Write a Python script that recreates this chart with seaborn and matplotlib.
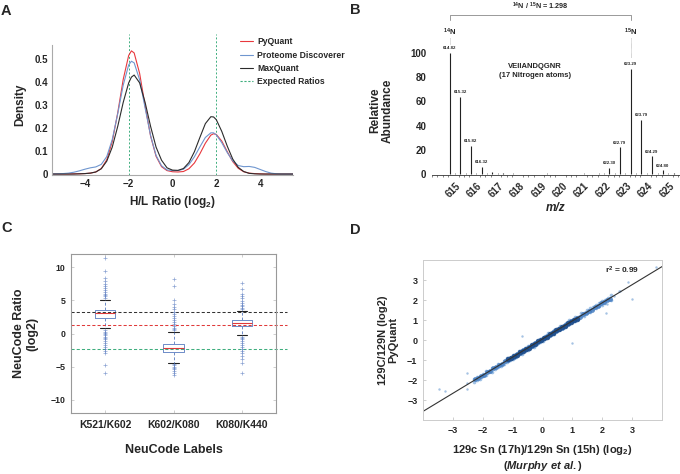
import matplotlib
matplotlib.use("Agg")
import matplotlib.pyplot as plt
import seaborn as sns
import pandas as pd
from matplotlib.lines import Line2D
from matplotlib.ticker import MultipleLocator

# ---- A: H/L ratio densities ----
ratio_x = [-5.5, -5.25, -5.0, -4.75, -4.5, -4.25, -4.0, -3.75, -3.5, -3.25,
           -3.0, -2.75, -2.5, -2.25, -2.0, -1.875, -1.75, -1.5, -1.25, -1.0,
           -0.75, -0.5, -0.25, 0.0, 0.25, 0.5, 0.75, 1.0, 1.25, 1.5,
           1.75, 1.875, 2.0, 2.25, 2.5, 2.75, 3.0, 3.25, 3.5, 3.75,
           4.0, 4.25, 4.5, 4.75, 5.0, 5.25, 5.5]
pyquant_density = [0, 0, 0, 0, 0.001, 0.001, 0.002, 0.004, 0.009, 0.024,
                   0.062, 0.141, 0.266, 0.411, 0.515, 0.535, 0.526, 0.437, 0.296, 0.165,
                   0.077, 0.032, 0.015, 0.010, 0.009, 0.011, 0.023, 0.048, 0.088, 0.134,
                   0.169, 0.175, 0.172, 0.143, 0.097, 0.054, 0.025, 0.010, 0.004, 0.002,
                   0.001, 0, 0, 0, 0, 0, 0]
discoverer_density = [0, 0.001, 0.002, 0.004, 0.008, 0.014, 0.021, 0.027, 0.031, 0.042,
                      0.076, 0.150, 0.262, 0.386, 0.474, 0.490, 0.483, 0.409, 0.287, 0.167,
                      0.081, 0.036, 0.018, 0.015, 0.015, 0.021, 0.041, 0.075, 0.118, 0.159,
                      0.179, 0.179, 0.170, 0.136, 0.093, 0.057, 0.037, 0.032, 0.033, 0.029,
                      0.020, 0.011, 0.004, 0.001, 0, 0, 0]
maxquant_density = [0, 0, 0, 0, 0, 0.001, 0.002, 0.004, 0.009, 0.023,
                    0.056, 0.117, 0.207, 0.311, 0.396, 0.421, 0.430, 0.396, 0.311, 0.207,
                    0.117, 0.060, 0.027, 0.017, 0.016, 0.024, 0.050, 0.097, 0.159, 0.219,
                    0.249, 0.248, 0.236, 0.185, 0.121, 0.065, 0.029, 0.011, 0.003, 0.001,
                    0, 0, 0, 0, 0, 0, 0]
methods = ["PyQuant", "Proteome Discoverer", "MaxQuant"]
expected_ratios = [-2, 2]

# ---- B: isotope envelope ----
peak_mz = [614.82, 615.32, 615.82, 616.32, 616.82, 617.32,
           622.30, 622.79, 623.29, 623.79, 624.29, 624.80, 625.30]
peak_abundance = [100, 63.5, 23, 5.5, 2, 1, 4.7, 22, 87, 45, 14.5, 3, 1]
noise_mz = [615.07, 615.57, 616.07, 616.57, 617.07, 617.8, 618.6, 619.4,
            620.3, 621.1, 621.8, 622.05, 622.55, 623.05, 623.55, 624.05, 624.55, 625.05]
noise_abundance = [0.8, 0.6, 1.0, 0.7, 0.9, 0.5, 0.4, 0.5,
                   0.4, 0.5, 0.6, 0.8, 0.9, 0.7, 1.0, 0.8, 0.7, 0.6]
light_mz, heavy_mz = 614.82, 623.29

# ---- C: NeuCode box plots ----
neucode_labels = ["K521/K602", "K602/K080", "K080/K440"]
box_q1 = [2.41, -2.72, 1.20]
box_median = [3.02, -2.26, 1.66]
box_q3 = [3.52, -1.56, 2.06]
whisker_low = [0.80, -4.42, -0.30]
whisker_high = [5.13, 0.30, 3.47]
outliers_k521 = [5.4, 5.6, 5.8, 6.0, 6.2, 6.5, 6.8, 7.1, 7.5, 8.0, 8.4, 9.4, 11.4,
                 0.5, 0.3, 0.1, -0.1, -0.3, -0.5, -0.7, -0.9, -1.2, -1.5, -1.8,
                 -2.1, -2.4, -2.7, -2.9, -4.7, -5.9]
outliers_k602 = [0.5, 0.7, 0.9, 1.2, 1.5, 1.8, 2.1, 2.4, 2.7, 3.0, 3.3, 3.7, 4.0,
                 4.4, 5.1, 7.2, 8.2, -4.6, -4.8, -5.0, -5.2, -5.4, -5.7, -6.0, -6.3]
outliers_k080 = [3.7, 3.9, 4.1, 4.3, 4.6, 4.9, 5.3, 5.7, 6.0, 6.7, 7.6,
                 -0.5, -0.7, -0.9, -1.1, -1.4, -1.7, -2.0, -2.3, -2.6, -3.0,
                 -3.4, -3.8, -4.4, -6.0]
expected_neucode = [3.32, 1.32, -2.32]

# ---- D: PyQuant vs Murphy et al. ----
band_x = [-2.3, -2.2, -2.1, -2.0, -1.9, -1.8, -1.7, -1.6, -1.5, -1.4, -1.3, -1.2,
          -1.1, -1.0, -0.9, -0.8, -0.7, -0.6, -0.5, -0.4, -0.3, -0.2, -0.1, 0.0,
          0.1, 0.2, 0.3, 0.4, 0.5, 0.6, 0.7, 0.8, 0.9, 1.0, 1.1, 1.2,
          1.3, 1.4, 1.5, 1.6, 1.7, 1.8, 1.9, 2.0, 2.1, 2.2, 2.3]
band_y_upper = [-1.97, -1.84, -1.81, -1.68, -1.55, -1.53, -1.40, -1.34, -1.21, -1.18, -1.05, -0.92,
                -0.90, -0.77, -0.70, -0.57, -0.54, -0.41, -0.28, -0.26, -0.13, -0.07, 0.06, 0.09,
                0.22, 0.35, 0.37, 0.50, 0.53, 0.69, 0.72, 0.85, 0.98, 1.01, 1.14, 1.17,
                1.33, 1.36, 1.49, 1.62, 1.64, 1.77, 1.83, 1.96, 1.99, 2.12, 2.25]
band_y_lower = [-2.10, -1.98, -1.95, -1.81, -1.75, -1.61, -1.60, -1.47, -1.35, -1.32, -1.18, -1.12,
                -0.98, -0.97, -0.83, -0.71, -0.68, -0.54, -0.48, -0.34, -0.33, -0.20, -0.08, -0.05,
                0.09, 0.15, 0.29, 0.30, 0.43, 0.55, 0.58, 0.72, 0.78, 0.93, 0.94, 1.07,
                1.19, 1.22, 1.36, 1.42, 1.56, 1.61, 1.70, 1.76, 1.85, 1.99, 2.02]
mid_x = [-2.25, -2.15, -2.05, -1.95, -1.85, -1.75, -1.65, -1.55, -1.45, -1.35, -1.25, -1.15,
         -1.05, -0.95, -0.85, -0.75, -0.65, -0.55, -0.45, -0.35, -0.25, -0.15, -0.05,
         0.05, 0.15, 0.25, 0.35, 0.45, 0.55, 0.65, 0.75, 0.85, 0.95, 1.05, 1.15,
         1.25, 1.35, 1.45, 1.55, 1.65, 1.75, 1.85, 1.95, 2.05, 2.15, 2.25]
mid_y = [-1.97, -1.92, -1.79, -1.73, -1.60, -1.55, -1.42, -1.37, -1.24, -1.19, -1.06, -1.01,
         -0.88, -0.83, -0.70, -0.65, -0.52, -0.47, -0.34, -0.29, -0.16, -0.11, 0.02,
         0.08, 0.21, 0.26, 0.39, 0.44, 0.57, 0.62, 0.75, 0.80, 0.93, 0.98, 1.11,
         1.16, 1.29, 1.34, 1.47, 1.52, 1.65, 1.70, 1.83, 1.89, 2.02, 2.07]
core_x = [-1.15, -1.05, -0.95, -0.85, -0.75, -0.65, -0.55, -0.45, -0.35, -0.25, -0.15, -0.05,
          0.05, 0.15, 0.25, 0.35, 0.45, 0.55, 0.65, 0.75, 0.85, 0.95, 1.05, 1.15]
core_y = [-0.97, -0.92, -0.79, -0.74, -0.61, -0.56, -0.43, -0.38, -0.25, -0.20, -0.07, -0.02,
          0.12, 0.17, 0.30, 0.35, 0.48, 0.53, 0.66, 0.71, 0.84, 0.89, 1.02, 1.07]
stray_x = [-3.47, -3.25, -2.52, -2.52, -2.52, -0.68, 1.00, 2.12, 2.15, 2.40, 2.57, 2.60, 2.85, 3.01, 3.80]
stray_y = [-2.45, -2.56, -2.17, -2.45, -1.64, 0.21, -0.17, 1.37, 1.80, 2.20, 2.47, 2.45, 2.92, 2.03, 3.63]
fit_x = [-4.0, 4.0]
fit_y = [-3.57, 3.67]

sns.set_theme(style="white")
plt.rcParams["font.family"] = ["Liberation Sans", "DejaVu Sans"]
plt.rcParams["font.weight"] = "bold"
plt.rcParams["axes.labelweight"] = "bold"
plt.rcParams["mathtext.fontset"] = "custom"
plt.rcParams["mathtext.rm"] = "Liberation Sans:bold"
plt.rcParams["mathtext.it"] = "Liberation Sans:italic:bold"
plt.rcParams["mathtext.bf"] = "Liberation Sans:bold"
plt.rcParams["mathtext.default"] = "rm"

W, H = 680, 474
fig = plt.figure(figsize=(6.8, 4.74), dpi=100)


def axes_px(left, top, right, bottom):
    return fig.add_axes([left / W, 1 - bottom / H, (right - left) / W, (bottom - top) / H])


# ================= A =================
ax_a = axes_px(52, 33.6, 293, 175.2)
method_colors = {"PyQuant": "#e8383d", "Proteome Discoverer": "#6f96cf", "MaxQuant": "#2b2b2b"}
green = "#3fae7e"
density_df = pd.DataFrame({
    "ratio": ratio_x * 3,
    "density": pyquant_density + discoverer_density + maxquant_density,
    "method": [m for m in methods for _ in ratio_x],
})
for r in expected_ratios:
    ax_a.plot([r, r], [-0.005, 0.61], color=green, linestyle=(0, (2, 2)),
              linewidth=0.7, zorder=1)
sns.lineplot(data=density_df, x="ratio", y="density", hue="method",
             palette=method_colors, linewidth=0.8, legend=False, ax=ax_a, zorder=2)
ax_a.set_xlim(-5.5, 5.5)
ax_a.set_ylim(-0.005, 0.61)
ax_a.set_xticks([-4, -2, 0, 2, 4])
ax_a.set_yticks([0, 0.1, 0.2, 0.3, 0.4, 0.5])
ax_a.set_yticklabels(["0", "0.1", "0.2", "0.3", "0.4", "0.5"])
ax_a.tick_params(length=0, labelsize=7, pad=3)
for s in ["top", "right"]:
    ax_a.spines[s].set_visible(False)
for s in ["left", "bottom"]:
    ax_a.spines[s].set_color("#aaaaaa")
    ax_a.spines[s].set_linewidth(0.8)
ax_a.spines["left"].set_bounds(-0.005, 0.56)
ax_a.set_xlabel("H/L Ratio (log$_2$)", fontsize=8.5, labelpad=3)
ax_a.set_ylabel("Density", fontsize=8.5, labelpad=6)
handles = [Line2D([], [], color=method_colors[m], lw=0.8) for m in methods]
handles.append(Line2D([], [], color=green, lw=0.8, linestyle=(0, (2, 1.5))))
fig.legend(handles, methods + ["Expected Ratios"], loc="upper left",
           bbox_to_anchor=(240 / W, 1 - 37.5 / H), frameon=False, fontsize=6.2,
           labelspacing=0.5, handlelength=1.5, handletextpad=0.5,
           borderpad=0, borderaxespad=0)

# ================= B =================
ax_b = axes_px(432, 45.7, 680, 175.2)
ax_b.vlines(noise_mz, 0, noise_abundance, color="#444444", linewidth=0.5)
ax_b.vlines(peak_mz, 0, peak_abundance, color="#222222", linewidth=0.8)
for mz, ab in zip(peak_mz, peak_abundance):
    if ab > 2.5:
        ax_b.text(mz, ab + 4, f"{mz:.2f}", fontsize=3.2, ha="center", va="center")
ax_b.set_xlim(614.0, 625.6)
ax_b.set_ylim(-1, 106)
ax_b.set_xticks(range(615, 626))
ax_b.xaxis.set_minor_locator(MultipleLocator(0.25))
ax_b.set_yticks([0, 20, 40, 60, 80, 100])
ax_b.tick_params(axis="y", length=0, labelsize=7, pad=4)
ax_b.tick_params(axis="x", which="major", length=2.5, width=0.6, labelsize=7, pad=1.5)
ax_b.tick_params(axis="x", which="minor", length=1.5, width=0.4, bottom=True)
for lab in ax_b.get_xticklabels():
    lab.set_rotation(45)
    lab.set_ha("center")
for s in ["top", "right", "left"]:
    ax_b.spines[s].set_visible(False)
ax_b.spines["bottom"].set_color("#333333")
ax_b.spines["bottom"].set_linewidth(0.6)
ax_b.set_xlabel("m/z", fontsize=8.5, fontstyle="italic", labelpad=2)
ax_b.set_ylabel("Relative\nAbundance", fontsize=8.5, labelpad=12, linespacing=1.0)
# ratio bracket
bracket_y = 131.7
ax_b.plot([light_mz, light_mz, heavy_mz, heavy_mz],
          [bracket_y - 4.5, bracket_y, bracket_y, bracket_y - 4.5],
          color="#999999", linewidth=0.7, clip_on=False)
ax_b.text((light_mz + heavy_mz) / 2, bracket_y + 6.5, "$^{14}$N / $^{15}$N = 1.298",
          fontsize=5.2, ha="center", va="center")
for mz, txt, low in [(light_mz, "$^{14}$N", 107.5), (heavy_mz, "$^{15}$N", 96)]:
    ax_b.text(mz, 116.8, txt, fontsize=5.5, ha="center", va="center", clip_on=False)
    ax_b.plot([mz, mz], [112.5, low], color="#999999", linewidth=0.5,
              linestyle=(0, (0.8, 0.8)), clip_on=False)
ax_b.text(618.8, 85, "VEIIANDQGNR\n(17 Nitrogen atoms)", fontsize=5.5,
          ha="center", va="center", linespacing=1.3)

# ================= C =================
ax_c = axes_px(71, 254, 276, 413)
box_stats = [dict(label=lab, q1=q1, med=md, q3=q3, whislo=lo, whishi=hi, fliers=[])
             for lab, q1, md, q3, lo, hi in zip(neucode_labels, box_q1, box_median,
                                                 box_q3, whisker_low, whisker_high)]
ax_c.bxp(box_stats, positions=[0, 1, 2], widths=0.3, showfliers=False,
         boxprops=dict(color="#6d8cc8", linewidth=0.7),
         whiskerprops=dict(color="#6d8cc8", linewidth=0.7, linestyle=(0, (3, 2))),
         capprops=dict(color="#222222", linewidth=0.8),
         medianprops=dict(color="#e03a3a", linewidth=0.8))
outlier_df = pd.DataFrame({
    "label": [0] * len(outliers_k521) + [1] * len(outliers_k602) + [2] * len(outliers_k080),
    "ratio": outliers_k521 + outliers_k602 + outliers_k080,
})
sns.scatterplot(data=outlier_df, x="label", y="ratio", marker="+", color="#5a7cc0",
                s=8, linewidth=0.5, alpha=0.7, ax=ax_c, zorder=3)
for val, col in zip(expected_neucode, ["#333333", "#e03a3a", "#3fae7e"]):
    ax_c.plot([-0.5, 2.66], [val, val], color=col, linewidth=0.75,
              linestyle=(0, (3, 2)), clip_on=False)
ax_c.set_xlim(-0.5, 2.5)
ax_c.set_ylim(-12, 12)
ax_c.set_xticks([0, 1, 2])
ax_c.set_xticklabels(neucode_labels)
ax_c.set_yticks([-10, -5, 0, 5, 10])
ax_c.tick_params(direction="in", length=2, width=0.5, color="#bbbbbb",
                 top=True, right=True, bottom=True, left=True)
ax_c.tick_params(axis="y", labelsize=6.3, pad=4)
ax_c.tick_params(axis="x", labelsize=7.5, pad=5)
for s in ax_c.spines.values():
    s.set_color("#999999")
    s.set_linewidth(0.8)
ax_c.set_xlabel("NeuCode Labels", fontsize=9, labelpad=10)
ax_c.set_ylabel("NeuCode Ratio\n(log2)", fontsize=9, labelpad=9, linespacing=1.1)

# ================= D =================
ax_d = axes_px(423, 260, 662, 420)
sns.scatterplot(x=band_x + band_x, y=band_y_upper + band_y_lower, color="#7aa9dc",
                s=7, linewidth=0, alpha=0.7, ax=ax_d)
sns.scatterplot(x=mid_x, y=mid_y, color="#3f78bd", s=12, linewidth=0, alpha=0.8, ax=ax_d)
sns.scatterplot(x=core_x, y=core_y, color="#1d4c8a", s=16, linewidth=0, alpha=0.9, ax=ax_d)
sns.scatterplot(x=stray_x, y=stray_y, color="#8fb3dc", s=3, linewidth=0, alpha=0.8, ax=ax_d)
sns.lineplot(x=fit_x, y=fit_y, color="#333333", linewidth=0.8, ax=ax_d)
ax_d.text(2.1, 3.5, "r$^2$ = 0.99", fontsize=6, ha="left", va="center")
ax_d.set_xlim(-4, 4)
ax_d.set_ylim(-4, 4)
ax_d.set_xticks([-3, -2, -1, 0, 1, 2, 3])
ax_d.set_yticks([-3, -2, -1, 0, 1, 2, 3])
ax_d.tick_params(direction="in", length=2, width=0.5, color="#bbbbbb",
                 bottom=True, left=True, labelsize=6.5, pad=4)
for s in ax_d.spines.values():
    s.set_color("#cccccc")
    s.set_linewidth(0.7)
ax_d.set_xlabel("129c Sn (17h)/129n Sn (15h) (log$_2$)\n($\\mathit{Murphy\\ et\\ al.}$)",
                fontsize=8, labelpad=6, linespacing=1.2)
ax_d.set_ylabel("129C/129N (log2)\nPyQuant", fontsize=8, labelpad=6, linespacing=1.1)

# panel letters
for letter, x, y in [("A", 1, 4), ("B", 350, 3), ("C", 1, 221), ("D", 350, 223)]:
    fig.text(x / W, 1 - y / H, letter, fontsize=10.5, fontweight="bold", va="top", ha="left")

fig.savefig("out.png", dpi=100)
